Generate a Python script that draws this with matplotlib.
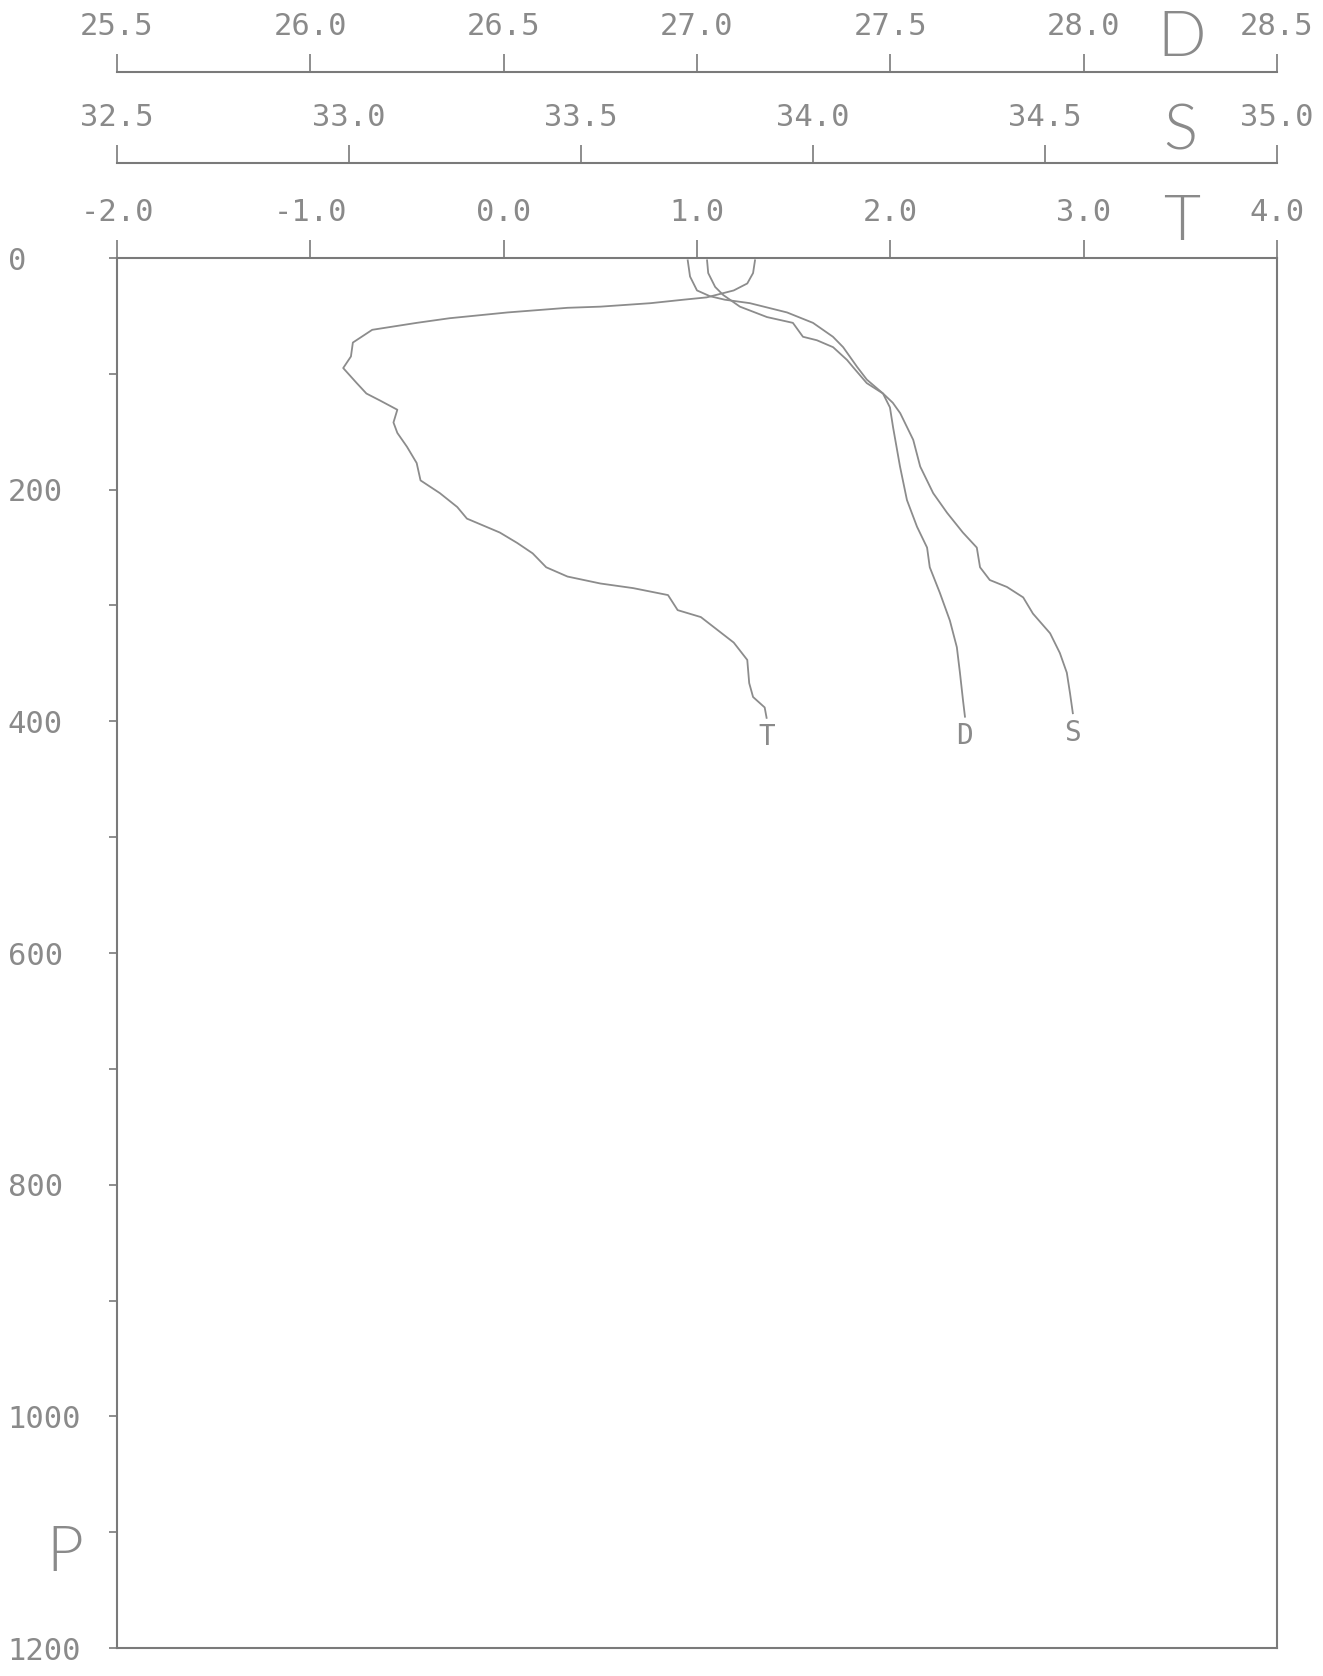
import matplotlib
matplotlib.use("Agg")
import matplotlib.pyplot as plt

# --- Profile data (pressure in dbar) ---
t_pres = [2, 13, 22, 28, 31, 34, 36, 39, 42, 43, 47, 52, 56, 62, 73, 85, 95, 108, 117,
          123, 131, 142, 151, 163, 177, 192, 203, 215, 225, 237, 246, 255, 267, 275,
          281, 285, 291, 304, 310, 332, 347, 367, 379, 388, 397]
t_vals = [1.30, 1.29, 1.26, 1.19, 1.12, 1.05, 0.93, 0.76, 0.50, 0.33, 0.02, -0.28,
          -0.45, -0.68, -0.78, -0.79, -0.83, -0.76, -0.71, -0.64, -0.55, -0.57, -0.55,
          -0.50, -0.45, -0.43, -0.33, -0.24, -0.19, -0.02, 0.07, 0.15, 0.22, 0.33,
          0.50, 0.67, 0.85, 0.90, 1.02, 1.19, 1.26, 1.27, 1.29, 1.35, 1.36]

s_pres = [2, 16, 28, 33, 36, 39, 47, 56, 68, 77, 94, 105, 117, 125, 134, 157, 180, 203,
          220, 237, 250, 267, 278, 284, 293, 307, 324, 341, 358, 376, 393]
s_vals = [33.73, 33.735, 33.75, 33.778, 33.81, 33.864, 33.944, 34.00, 34.043, 34.065,
          34.095, 34.116, 34.151, 34.172, 34.188, 34.216, 34.231, 34.259, 34.289,
          34.323, 34.353, 34.36, 34.381, 34.418, 34.453, 34.474, 34.511, 34.532,
          34.547, 34.554, 34.56]

d_pres = [2, 13, 25, 32, 42, 51, 56, 68, 71, 77, 88, 94, 108, 117, 129, 146, 180, 209,
          232, 250, 267, 289, 313, 336, 358, 382, 396]
d_vals = [27.026, 27.029, 27.047, 27.068, 27.111, 27.181, 27.248, 27.274, 27.31,
          27.352, 27.388, 27.403, 27.439, 27.481, 27.499, 27.507, 27.525, 27.543,
          27.569, 27.595, 27.602, 27.628, 27.654, 27.672, 27.68, 27.688, 27.693]

# axis scales
t_ticks = [-2.0, -1.0, 0.0, 1.0, 2.0, 3.0, 4.0]
s_ticks = [32.5, 33.0, 33.5, 34.0, 34.5, 35.0]
d_ticks = [25.5, 26.0, 26.5, 27.0, 27.5, 28.0, 28.5]
p_ticks = [0, 100, 200, 300, 400, 500, 600, 700, 800, 900, 1000, 1100, 1200]
p_labels = ['0', '', '200', '', '400', '', '600', '', '800', '', '1000', '', '1200']

W, H = 1323, 1676
LINE_C = '#8c8c8c'
AX_C = '#7a7a7a'
TXT_C = '#8a8a8a'
MONO = 'DejaVu Sans Mono'

fig = plt.figure(figsize=(W / 100, H / 100), dpi=100)
left, right, top, bottom = 117, 1277, 258, 1648
ax = fig.add_axes([left / W, 1 - bottom / H, (right - left) / W, (bottom - top) / H])

ax.plot(t_vals, t_pres, color=LINE_C, lw=1.3)
ax.set_xlim(-2.0, 4.0)
ax.set_ylim(1200, 0)

for sp in ax.spines.values():
    sp.set_color(AX_C)
    sp.set_linewidth(1.5)


def scale_axis(xlim, ticks, offset_px):
    a = ax.twiny()
    a.set_xlim(*xlim)
    for name, sp in a.spines.items():
        sp.set_visible(name == 'top')
    a.spines['top'].set_position(('outward', offset_px * 0.72))
    a.spines['top'].set_color(AX_C)
    a.spines['top'].set_linewidth(1.5)
    a.set_xticks(ticks)
    a.set_xticklabels([f'{v:.1f}' for v in ticks])
    a.tick_params(axis='x', direction='out', length=13, width=1.2, color=AX_C,
                  pad=9, labelsize=22, labelcolor=TXT_C, labelfontfamily=MONO)
    return a


ax_s = scale_axis((32.5, 35.0), s_ticks, top - 163)
ax_s.plot(s_vals, s_pres, color=LINE_C, lw=1.3)
ax_d = scale_axis((25.5, 28.5), d_ticks, top - 72)
ax_d.plot(d_vals, d_pres, color=LINE_C, lw=1.3)

# T axis on top of the box (after twiny, which moves the parent ticks to the bottom)
ax.xaxis.tick_top()
ax.set_xticks(t_ticks)
ax.set_xticklabels([f'{v:.1f}' for v in t_ticks])
ax.tick_params(axis='x', which='both', bottom=False, labelbottom=False, top=True,
               labeltop=True, direction='out', length=13, width=1.2, color=AX_C,
               pad=9, labelsize=22, labelcolor=TXT_C, labelfontfamily=MONO)

# P axis on left, labels left-aligned near the page edge
ax.set_yticks(p_ticks)
ax.set_yticklabels(p_labels)
ax.tick_params(axis='y', direction='out', length=6, width=1.2, color=AX_C,
               pad=(left - 10 - 6) * 0.72, labelsize=22, labelcolor=TXT_C,
               labelfontfamily=MONO)
for lab in ax.get_yticklabels():
    lab.set_horizontalalignment('left')

# curve end labels
for a, xs, ps, name in [(ax, t_vals, t_pres, 'T'), (ax_d, d_vals, d_pres, 'D'),
                        (ax_s, s_vals, s_pres, 'S')]:
    a.annotate(name, xy=(xs[-1], ps[-1]), xytext=(0, -14), textcoords='offset points',
               ha='center', va='center', fontsize=20, color=TXT_C, family=MONO)

# big axis letters
big = dict(fontsize=46, color=TXT_C, ha='center', va='center',
           family=['Lato', 'DejaVu Sans'], fontweight=300)
fig.text(1182 / W, 1 - 38 / H, 'D', **big)
fig.text(1180 / W, 1 - 132 / H, 'S', **big)
fig.text(1182 / W, 1 - 222 / H, 'T', **big)
fig.text(65 / W, 1 - 1553 / H, 'P', **big)

fig.savefig('out.png', dpi=100, facecolor='white')
